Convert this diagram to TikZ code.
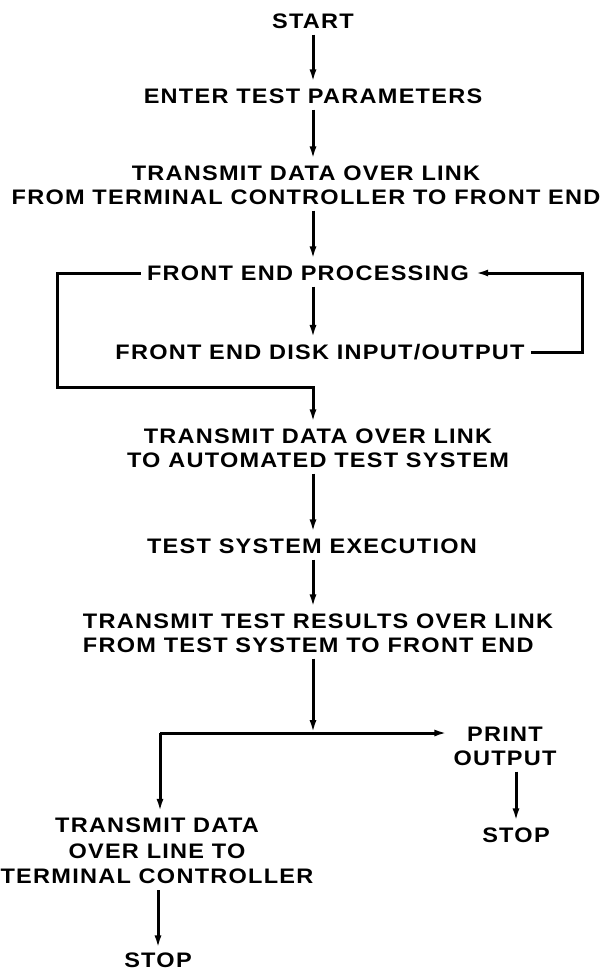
\documentclass[tikz,border=0pt]{standalone}
\usepackage{fontspec}
\setmainfont{Liberation Sans}[FakeStretch=1.12, LetterSpace=6]
\usetikzlibrary{arrows.meta, positioning, calc}

\tikzset{
  lbl/.style={font=\fontsize{21}{24}\selectfont\bfseries, inner sep=6pt, align=center},
  flow/.style={line width=3pt, -{Latex[length=13pt,width=7pt]}},
}

\begin{document}
\begin{tikzpicture}[x=1pt, y=-1pt]
  \useasboundingbox (0,0) rectangle (604,974);
  % main column
  \coordinate (spine) at (313,0);
  \node[lbl] (start) at (313,21) {START};
  \node[lbl] (enter) at (313,96) {ENTER TEST PARAMETERS};
  \node[lbl] (xmit1) at (306,185) {TRANSMIT DATA OVER LINK\\FROM TERMINAL CONTROLLER TO FRONT END};
  \node[lbl] (fep) at (308,273) {FRONT END PROCESSING};
  \node[lbl] (disk) at (320,352) {FRONT END DISK INPUT/OUTPUT};
  \node[lbl] (xmit2) at (318,448) {TRANSMIT DATA OVER LINK\\TO AUTOMATED TEST SYSTEM};
  \node[lbl] (exec) at (312,546) {TEST SYSTEM EXECUTION};
  \node[lbl, align=left] (xmit3) at (318,633) {TRANSMIT TEST RESULTS OVER LINK\\FROM TEST SYSTEM TO FRONT END};
  % branches
  \node[lbl] (print) at (505,746) {PRINT\\OUTPUT};
  \node[lbl] (stopR) at (516,835) {STOP};
  \node[lbl, font=\fontsize{21}{25.5}\selectfont\bfseries] (xmit4) at (157,851) {TRANSMIT DATA\\OVER LINE TO\\TERMINAL CONTROLLER};
  \node[lbl, inner sep=4pt] (stopL) at (158,960) {STOP};

  \coordinate (loopL) at (57,387);
  \coordinate (join) at (313,387);
  \coordinate (loopR) at (582,0);
  \coordinate (split) at (313,733);
  \coordinate (corner) at (160,733);

  \draw[flow] (start.south -| spine) -- (enter.north -| spine);
  \draw[flow] (enter.south -| spine) -- (xmit1.north -| spine);
  \draw[flow] (xmit1.south -| spine) -- (fep.north -| spine);
  \draw[flow] (fep.south -| spine) -- (disk.north -| spine);
  \draw[flow] (fep.west) -| (loopL) -- (join) -- (xmit2.north -| join);
  \draw[flow] (disk.east) -- (disk.east -| loopR) |- (fep.east);
  \draw[flow] (xmit2.south -| spine) -- (exec.north -| spine);
  \draw[flow] (exec.south -| spine) -- (xmit3.north -| spine);
  \draw[flow] (xmit3.south -| spine) -- (split);
  \draw[flow] (corner) -- (corner -| print.west);
  \draw[flow] (corner) -- (xmit4.north -| corner);
  \draw[flow] (print.south -| stopR) -- (stopR.north);
  \draw[flow] (xmit4.south -| stopL) -- (stopL.north);
\end{tikzpicture}
\end{document}
